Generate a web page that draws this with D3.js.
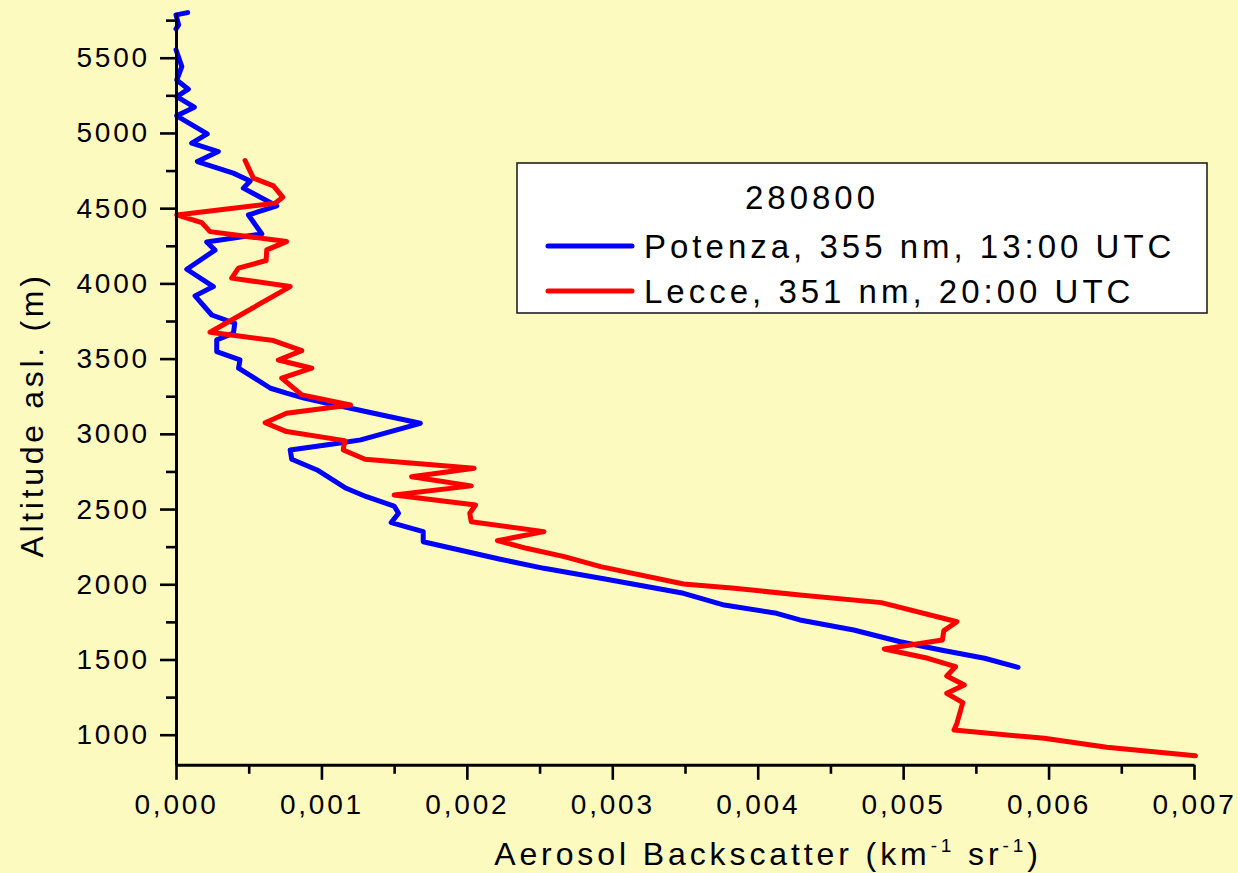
<!DOCTYPE html>
<html>
<head>
<meta charset="utf-8">
<script src="https://cdn.jsdelivr.net/npm/d3@7"></script>
<style>
  html, body { margin: 0; padding: 0; background: #FDFAC0; }
  svg { display: block; }
  text { font-family: "Liberation Sans", Arial, sans-serif; fill: #000; }
</style>
</head>
<body>
<svg id="chart" width="1238" height="873"></svg>
<script>
// ---- Data ----
// null marks a gap in the profile (no plotted data)
const potenzaAltitude = [5800, 5785, 5719, 5692, 5620, 5553, 5441, 5352, 5291, 5242, 5171, 5114, 4994, 4932, 4876, 4810, 4733, 4680, 4633, 4515, 4455, 4329, 4275, 4221, 4094, 3979, 3917, 3790, 3735, 3669, 3625, 3547, 3492, 3436, 3370, 3303, 3270, 3237, 3203, 3070, 2960, 2941, 2893, 2831, 2760, 2638, 2582, 2520, 2472, 2410, 2350, 2283, 2228, 2166, 2106, 2033, 1940, 1862, 1807, 1763, 1696, 1618, 1563, 1508, 1448];
const potenzaBackscatter = [0.00008, 0.0, 0.000018, 0.0, null, 0.0, 0.00004, 0.000005, 0.000085, 0.000005, 0.000126, 0.000005, 0.000215, 0.000108, 0.000291, 0.000147, 0.000394, 0.00051, 0.000463, 0.000693, 0.000498, 0.00059, 0.000211, 0.000268, 0.000074, 0.000257, 0.000131, 0.000246, 0.000404, 0.000395, 0.00028, 0.00028, 0.00044, 0.00043, 0.00054, 0.00065, 0.00076, 0.00088, 0.00104, 0.00168, 0.00127, 0.00114, 0.000785, 0.000796, 0.00097, 0.00117, 0.00131, 0.0015, 0.00153, 0.00148, 0.0017, 0.0017, 0.00195, 0.00223, 0.00253, 0.00296, 0.00349, 0.00377, 0.00413, 0.00429, 0.00466, 0.00498, 0.00526, 0.00556, 0.00579];

const lecceAltitude = [4817, 4700, 4648, 4573, 4533, 4455, 4404, 4344, 4278, 4223, 4152, 4101, 4035, 3979, 3675, 3620, 3553, 3491, 3436, 3370, 3259, 3192, 3137, 3074, 3015, 2955, 2893, 2831, 2771, 2715, 2654, 2594, 2527, 2472, 2416, 2350, 2290, 2239, 2184, 2117, 2002, 1973, 1929, 1878, 1751, 1692, 1630, 1570, 1508, 1452, 1390, 1330, 1275, 1213, 1076, 1031, 976, 916, 860];
const lecceBackscatter = [0.000475, 0.000532, 0.00067, 0.000734, 0.000681, 0.000005, 0.000177, 0.000234, 0.00076, 0.000624, 0.00062, 0.000429, 0.000383, 0.000785, 0.000234, 0.00067, 0.000865, 0.000704, 0.000934, 0.000727, 0.000865, 0.0012, 0.00076, 0.000613, 0.00076, 0.00116, 0.00115, 0.0013, 0.00205, 0.00162, 0.00203, 0.0015, 0.00206, 0.00202, 0.00203, 0.00253, 0.00221, 0.00241, 0.00267, 0.00292, 0.00349, 0.00384, 0.00429, 0.00485, 0.00537, 0.00528, 0.00527, 0.00487, 0.00517, 0.00536, 0.0053, 0.00542, 0.0053, 0.00541, 0.00537, 0.00535, 0.00597, 0.0064, 0.00701];

const xMajorTicks = [0, 0.001, 0.002, 0.003, 0.004, 0.005, 0.006, 0.007];
const xMinorTicks = [0.0005, 0.0015, 0.0025, 0.0035, 0.0045, 0.0055, 0.0065];
const yMajorTicks = [1000, 1500, 2000, 2500, 3000, 3500, 4000, 4500, 5000, 5500];
const yMinorTicks = [1250, 1750, 2250, 2750, 3250, 3750, 4250, 4750, 5250, 5750];

const legendTitle = "280800";
const seriesNames = ["Potenza, 355 nm, 13:00 UTC", "Lecce, 351 nm, 20:00 UTC"];
const seriesColors = ["#0000FF", "#FF0000"];

// ---- Chart ----
const svg = d3.select("#chart");
svg.append("rect").attr("width", 1238).attr("height", 873).attr("fill", "#FDFAC0");

const x = d3.scaleLinear().domain([0, 0.007]).range([176, 1194]);
const y = d3.scaleLinear().domain([800, 5800]).range([764.8, 12.6]);

const line = d3.line()
  .defined(d => d.v !== null)
  .x(d => x(d.v))
  .y(d => y(d.h));

const series = [
  potenzaAltitude.map((h, i) => ({h, v: potenzaBackscatter[i]})),
  lecceAltitude.map((h, i) => ({h, v: lecceBackscatter[i]}))
];

series.forEach((data, i) => {
  svg.append("path")
    .datum(data)
    .attr("d", line)
    .attr("fill", "none")
    .attr("stroke", seriesColors[i])
    .attr("stroke-width", 5)
    .attr("stroke-linejoin", "round")
    .attr("stroke-linecap", "round");
});

const fmt = v => d3.format(".3f")(v).replace(".", ",");

// X axis
const xAxisG = svg.append("g").attr("transform", `translate(0,${y(800)})`);
xAxisG.call(d3.axisBottom(x).tickValues(xMajorTicks).tickSize(15).tickSizeOuter(0).tickPadding(14).tickFormat(fmt));
const xMinorG = svg.append("g").attr("transform", `translate(0,${y(800)})`);
xMinorG.call(d3.axisBottom(x).tickValues(xMinorTicks).tickSize(9).tickSizeOuter(0).tickFormat(""));
xMinorG.select(".domain").remove();

// Y axis
const yAxisG = svg.append("g").attr("transform", `translate(${x(0)},0)`);
yAxisG.call(d3.axisLeft(y).tickValues(yMajorTicks).tickSize(16).tickSizeOuter(0).tickPadding(10).tickFormat(d3.format("d")));
const yMinorG = svg.append("g").attr("transform", `translate(${x(0)},0)`);
yMinorG.call(d3.axisLeft(y).tickValues(yMinorTicks).tickSize(10).tickSizeOuter(0).tickFormat(""));
yMinorG.select(".domain").remove();

[xAxisG, xMinorG, yAxisG, yMinorG].forEach(g => {
  g.selectAll(".domain").attr("stroke", "#000").attr("stroke-width", 3);
  g.selectAll(".tick line").attr("stroke", "#000").attr("stroke-width", 2.6);
  g.selectAll(".tick text")
    .attr("font-family", "Liberation Sans, Arial, sans-serif")
    .attr("font-size", 28)
    .attr("letter-spacing", 2.8)
    .attr("fill", "#000");
});

// Axis titles
const xTitle = svg.append("text")
  .attr("x", 768).attr("y", 865)
  .attr("text-anchor", "middle")
  .attr("font-size", 32)
  .attr("letter-spacing", 3.9);
xTitle.append("tspan").text("Aerosol Backscatter (km");
xTitle.append("tspan").attr("font-size", 19).attr("dy", -13).text("-1");
xTitle.append("tspan").attr("dy", 13).text(" sr");
xTitle.append("tspan").attr("font-size", 19).attr("dy", -13).text("-1");
xTitle.append("tspan").attr("dy", 13).text(")");

svg.append("text")
  .attr("transform", "translate(43,415) rotate(-90)")
  .attr("text-anchor", "middle")
  .attr("font-size", 32)
  .attr("letter-spacing", 3.7)
  .text("Altitude asl. (m)");

// Legend
const lg = svg.append("g");
lg.append("rect")
  .attr("x", 517).attr("y", 163).attr("width", 690).attr("height", 150)
  .attr("fill", "#FFFFFF").attr("stroke", "#222").attr("stroke-width", 1.6);
lg.append("text")
  .attr("x", 812).attr("y", 209)
  .attr("text-anchor", "middle")
  .attr("font-size", 33).attr("letter-spacing", 4)
  .text(legendTitle);
const rowY = [246, 291];
seriesNames.forEach((name, i) => {
  lg.append("line")
    .attr("x1", 548).attr("x2", 632)
    .attr("y1", rowY[i]).attr("y2", rowY[i])
    .attr("stroke", seriesColors[i]).attr("stroke-width", 5)
    .attr("stroke-linecap", "round");
  lg.append("text")
    .attr("x", 644).attr("y", rowY[i] + 12)
    .attr("font-size", 33).attr("letter-spacing", 4)
    .text(name);
});
</script>
</body>
</html>
